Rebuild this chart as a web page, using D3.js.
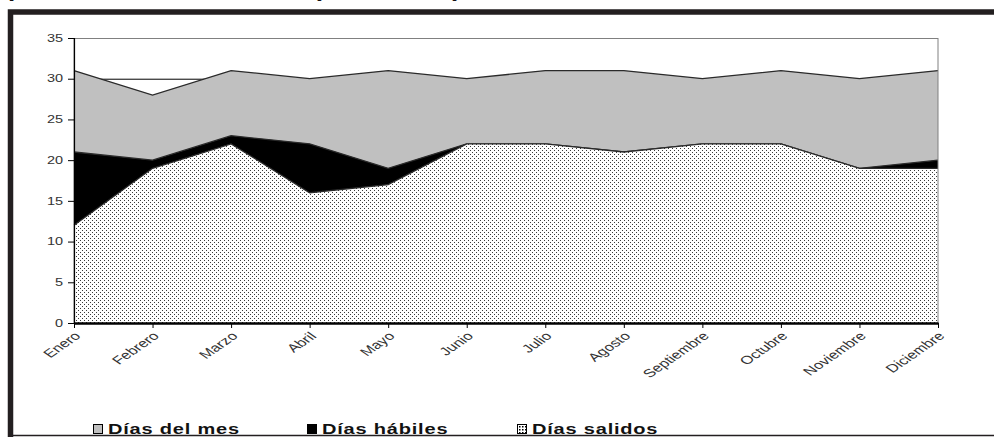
<!DOCTYPE html>
<html>
<head>
<meta charset="utf-8">
<script src="https://cdn.jsdelivr.net/npm/d3@7"></script>
<style>
  html, body { margin: 0; padding: 0; background: #fff; }
  svg { display: block; }
  text { font-family: "Liberation Sans", Arial, sans-serif; }
</style>
</head>
<body>
<svg id="chart" width="994" height="437"></svg>
<script>
// Months of the year
const meses = ["Enero", "Febrero", "Marzo", "Abril", "Mayo", "Junio", "Julio",
  "Agosto", "Septiembre", "Octubre", "Noviembre", "Diciembre"];

// Series values (days per month)
const diasDelMes   = [31, 28, 31, 30, 31, 30, 31, 31, 30, 31, 30, 31];
const diasHabiles  = [21, 20, 23, 22, 19, 22, 22, 21, 22, 22, 19, 20];
const diasSalidos  = [12, 19, 22, 16, 17, 22, 22, 21, 22, 22, 19, 19];

// Axis ticks and legend labels
const yTicks = [0, 5, 10, 15, 20, 25, 30, 35];
const leyenda = ["Días del mes", "Días hábiles", "Días salidos"];

const STRETCH = 1.45; // horizontal stretch applied to all lettering

const svg = d3.select("#chart");

// Dotted fill for "Días salidos"
const defs = svg.append("defs");
const pat = defs.append("pattern")
  .attr("id", "dots").attr("patternUnits", "userSpaceOnUse")
  .attr("width", 4).attr("height", 4);
pat.append("rect").attr("width", 4).attr("height", 4).attr("fill", "#fff");
pat.append("rect").attr("x", 0).attr("y", 0).attr("width", 1).attr("height", 1).attr("fill", "#3a3a3a");
pat.append("rect").attr("x", 2).attr("y", 2).attr("width", 1).attr("height", 1).attr("fill", "#3a3a3a");

const legendPat = defs.append("pattern")
  .attr("id", "dotsLegend").attr("patternUnits", "userSpaceOnUse")
  .attr("width", 3).attr("height", 3);
legendPat.append("rect").attr("width", 3).attr("height", 3).attr("fill", "#fff");
legendPat.append("rect").attr("width", 1.5).attr("height", 1.5).attr("fill", "#000");

// Title (runs above the frame; only its descenders reach into view)
svg.append("text").attr("x", 8).attr("y", -3)
  .attr("transform", `translate(8,0) scale(${STRETCH},1) translate(-8,0)`)
  .attr("font-size", 18).attr("font-weight", "bold").attr("fill", "#111")
  .text("promedio de días salidos");
svg.append("text").attr("x", 313).attr("y", -3)
  .attr("transform", `translate(313,0) scale(${STRETCH},1) translate(-313,0)`)
  .attr("font-size", 18).attr("font-weight", "bold").attr("fill", "#111")
  .text("(2005, 2006)");

// Outer frame
svg.append("path")
  .attr("d", "M10.5,437 L10.5,12 L994,12")
  .attr("fill", "none").attr("stroke", "#231f20").attr("stroke-width", 5.5);
svg.append("line")
  .attr("x1", 8).attr("x2", 994).attr("y1", 435.5).attr("y2", 435.5)
  .attr("stroke", "#231f20").attr("stroke-width", 1.6);

// Plot area
const x0 = 74, x1 = 938, yTop = 38, yBot = 323;

const x = d3.scalePoint().domain(meses).range([x0, x1]);
const y = d3.scaleLinear().domain([0, 35]).range([yBot, yTop]);

const plot = svg.append("g");

// Gridlines behind the areas
plot.selectAll("line.grid")
  .data(yTicks.filter(t => t > 0 && t < 35))
  .enter().append("line")
  .attr("x1", x0).attr("x2", x1)
  .attr("y1", d => y(d) + 0.5).attr("y2", d => y(d) + 0.5)
  .attr("stroke", "#000").attr("stroke-width", 1);

const area = vals => d3.area()
  .x((d, i) => x(meses[i]))
  .y0(y(0))
  .y1(d => y(d))(vals);

const line = vals => d3.line()
  .x((d, i) => x(meses[i]))
  .y(d => y(d))(vals);

const series = [
  { vals: diasDelMes,  fill: "#c0c0c0" },
  { vals: diasHabiles, fill: "#000" },
  { vals: diasSalidos, fill: "url(#dots)" }
];

series.forEach(s => {
  plot.append("path").attr("d", area(s.vals)).attr("fill", s.fill);
  plot.append("path").attr("d", line(s.vals))
    .attr("fill", "none").attr("stroke", "#2a2a2a").attr("stroke-width", 1.3);
});

// Plot border
plot.append("rect")
  .attr("x", x0).attr("y", yTop + 0.5)
  .attr("width", x1 - x0).attr("height", yBot - yTop)
  .attr("fill", "none").attr("stroke", "#808080").attr("stroke-width", 1);

// Y axis
const yAxis = svg.append("g").attr("transform", `translate(${x0},0)`)
  .call(d3.axisLeft(y).tickValues(yTicks).tickSize(6).tickPadding(5));
yAxis.attr("font-family", null);
yAxis.select(".domain").attr("stroke", "#000").attr("stroke-width", 1.2);
yAxis.selectAll(".tick line").attr("stroke", "#000");
yAxis.selectAll(".tick text")
  .attr("font-size", 10).attr("fill", "#333")
  .each(function () {
    const t = d3.select(this);
    const tx = +t.attr("x");
    t.attr("transform", `translate(${tx},0) scale(${STRETCH},1) translate(${-tx},0)`);
  });

// X axis
const xAxis = svg.append("g").attr("transform", `translate(0,${yBot})`)
  .call(d3.axisBottom(x).tickSize(5).tickSizeOuter(0));
xAxis.attr("font-family", null);
xAxis.select(".domain").attr("stroke", "#000").attr("stroke-width", 2.4);
xAxis.selectAll(".tick line").attr("stroke", "#000");
xAxis.selectAll(".tick text")
  .attr("font-size", 11.5).attr("fill", "#333")
  .attr("text-anchor", "end")
  .attr("x", 0).attr("y", 0).attr("dy", "0.35em")
  .attr("transform", `translate(3,11) scale(${STRETCH},1) rotate(-45)`);

// Legend
const legendItems = [
  { label: leyenda[0], fill: "#c0c0c0", x: 93 },
  { label: leyenda[1], fill: "#000", x: 307 },
  { label: leyenda[2], fill: "url(#dotsLegend)", x: 517 }
];
const lg = svg.append("g");
legendItems.forEach(it => {
  lg.append("rect")
    .attr("x", it.x + 0.5).attr("y", 424.5).attr("width", 9).attr("height", 9)
    .attr("fill", it.fill).attr("stroke", "#000").attr("stroke-width", 1);
  const tx = it.x + 15;
  lg.append("text")
    .attr("x", tx).attr("y", 434)
    .attr("transform", `translate(${tx},0) scale(${STRETCH * 0.92},1) translate(${-tx},0)`)
    .attr("font-size", 15).attr("font-weight", "bold").attr("fill", "#111")
    .attr("letter-spacing", 0.6)
    .text(it.label);
});
</script>
</body>
</html>
